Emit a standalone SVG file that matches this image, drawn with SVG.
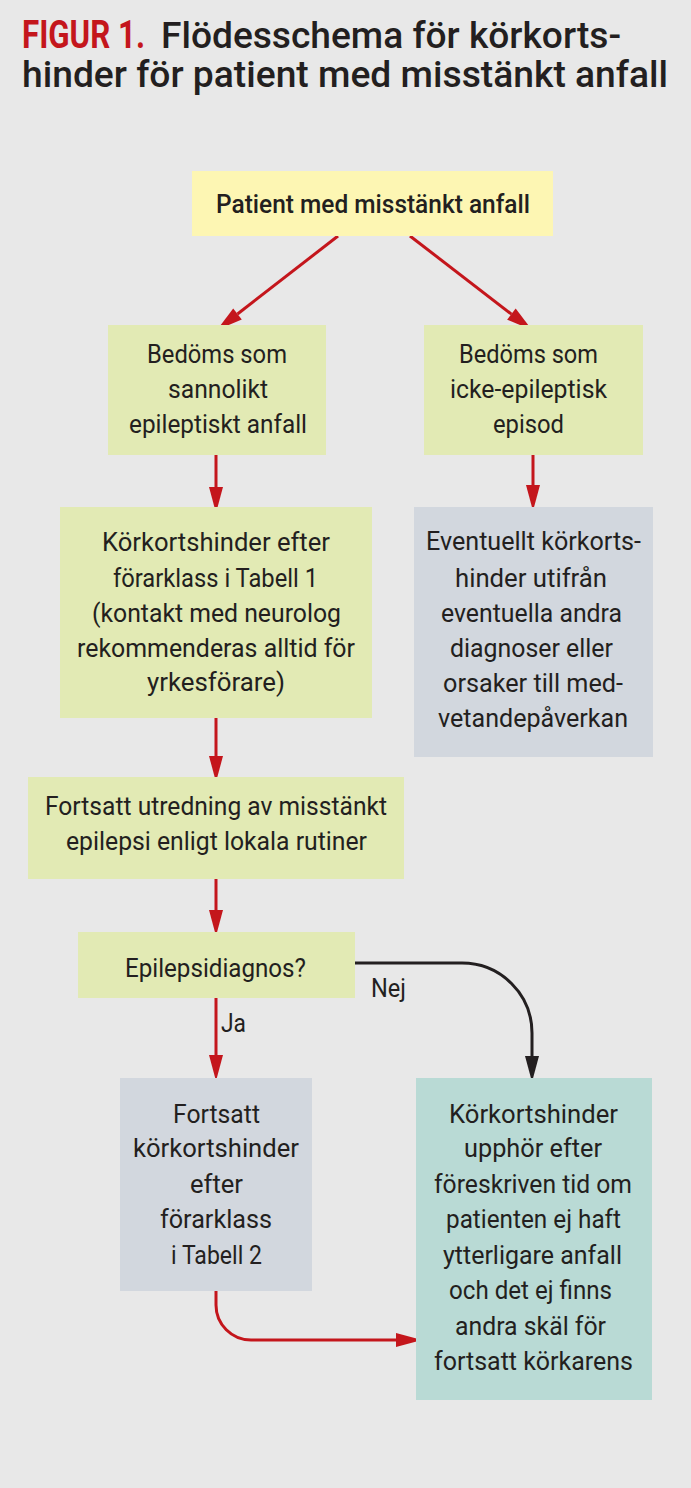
<svg xmlns="http://www.w3.org/2000/svg" width="691" height="1488" viewBox="0 0 691 1488">
<defs>
<style>
.bg{fill:#e8e8e8}
.yel{fill:#fdf6b3}
.grn{fill:#e2eab4}
.gry{fill:#d2d7de}
.teal{fill:#b9dad5}
.t{font-family:Roboto,"Liberation Sans",sans-serif;font-size:26px;font-weight:400;fill:#231f20;text-anchor:middle}
.tb{font-weight:500}
.lbl{font-family:Roboto,"Liberation Sans",sans-serif;font-size:26px;fill:#231f20}
.ttl{font-family:Roboto,"Liberation Sans",sans-serif;font-size:36px;font-weight:500;fill:#231f20}
.fig{font-family:Roboto,"Liberation Sans",sans-serif;font-size:39px;font-weight:700;fill:#c4161c}
.red{fill:none;stroke:#c4161c;stroke-width:3}
.blk{fill:none;stroke:#231f20;stroke-width:3}
</style>
<marker id="ar" markerUnits="userSpaceOnUse" markerWidth="26" markerHeight="14" refX="0" refY="7" orient="auto" overflow="visible">
<path d="M0,0 L26,7 L0,14 z" fill="#c4161c"/>
</marker>
<marker id="ab" markerUnits="userSpaceOnUse" markerWidth="26" markerHeight="14" refX="0" refY="7" orient="auto" overflow="visible">
<path d="M0,0 L26,7 L0,14 z" fill="#231f20"/>
</marker>
</defs>
<rect class="bg" x="0" y="0" width="691" height="1488"/>
<g id="title">
<text class="fig" x="22" y="48" textLength="123" lengthAdjust="spacingAndGlyphs">FIGUR 1.</text>
<text class="ttl" x="161" y="48" textLength="460" lengthAdjust="spacingAndGlyphs">Flödesschema för körkorts-</text>
<text class="ttl" x="22" y="87" textLength="646" lengthAdjust="spacingAndGlyphs">hinder för patient med misstänkt anfall</text>
</g>
<g id="connectors">
<path class="red" d="M338,236 L237.5,314" marker-end="url(#ar)"/>
<path class="red" d="M410,236 L511.4,314.1" marker-end="url(#ar)"/>
<path class="red" d="M216,455 V487" marker-end="url(#ar)"/>
<path class="red" d="M533,455 V485" marker-end="url(#ar)"/>
<path class="red" d="M216,718 V756" marker-end="url(#ar)"/>
<path class="red" d="M216,879 V910" marker-end="url(#ar)"/>
<path class="red" d="M216,998 V1055" marker-end="url(#ar)"/>
<path class="blk" d="M355,963 H462 A70,70 0 0 1 532,1033 V1056" marker-end="url(#ab)"/>
<path class="red" d="M216,1291 V1305 A35,35 0 0 0 251,1340 H396" marker-end="url(#ar)"/>
<text class="lbl" x="221" y="1032" textLength="25" lengthAdjust="spacingAndGlyphs">Ja</text>
<text class="lbl" x="371" y="997" textLength="35" lengthAdjust="spacingAndGlyphs">Nej</text>
</g>
<g id="n1">
<rect class="yel" x="192" y="171" width="361" height="65"/>
<text class="t tb" x="373" y="213" textLength="314" lengthAdjust="spacingAndGlyphs">Patient med misstänkt anfall</text>
</g>
<g id="n2">
<rect class="grn" x="108" y="325" width="218" height="130"/>
<text class="t" x="217" y="363" textLength="140" lengthAdjust="spacingAndGlyphs">Bedöms som</text>
<text class="t" x="218" y="398" textLength="100" lengthAdjust="spacingAndGlyphs">sannolikt</text>
<text class="t" x="218" y="433" textLength="178" lengthAdjust="spacingAndGlyphs">epileptiskt anfall</text>
</g>
<g id="n3">
<rect class="grn" x="424" y="325" width="219" height="130"/>
<text class="t" x="528.5" y="363" textLength="139" lengthAdjust="spacingAndGlyphs">Bedöms som</text>
<text class="t" x="528.5" y="398" textLength="157" lengthAdjust="spacingAndGlyphs">icke-epileptisk</text>
<text class="t" x="528.5" y="433" textLength="71" lengthAdjust="spacingAndGlyphs">episod</text>
</g>
<g id="n4">
<rect class="grn" x="60" y="507" width="312" height="211"/>
<text class="t" x="216" y="551" textLength="228" lengthAdjust="spacingAndGlyphs">Körkortshinder efter</text>
<text class="t" x="215.5" y="587" textLength="205" lengthAdjust="spacingAndGlyphs">förarklass i Tabell 1</text>
<text class="t" x="216.5" y="622" textLength="249" lengthAdjust="spacingAndGlyphs">(kontakt med neurolog</text>
<text class="t" x="216" y="657" textLength="278" lengthAdjust="spacingAndGlyphs">rekommenderas alltid för</text>
<text class="t" x="216" y="691" textLength="138" lengthAdjust="spacingAndGlyphs">yrkesförare)</text>
</g>
<g id="n5">
<rect class="gry" x="414" y="507" width="239" height="250"/>
<text class="t" x="533.5" y="550" textLength="215" lengthAdjust="spacingAndGlyphs">Eventuellt körkorts-</text>
<text class="t" x="531" y="587" textLength="152" lengthAdjust="spacingAndGlyphs">hinder utifrån</text>
<text class="t" x="531.5" y="622" textLength="181" lengthAdjust="spacingAndGlyphs">eventuella andra</text>
<text class="t" x="531.5" y="657" textLength="163" lengthAdjust="spacingAndGlyphs">diagnoser eller</text>
<text class="t" x="533" y="692" textLength="180" lengthAdjust="spacingAndGlyphs">orsaker till med-</text>
<text class="t" x="533" y="727" textLength="190" lengthAdjust="spacingAndGlyphs">vetandepåverkan</text>
</g>
<g id="n6">
<rect class="grn" x="28" y="777" width="376" height="102"/>
<text class="t" x="216" y="815" textLength="342" lengthAdjust="spacingAndGlyphs">Fortsatt utredning av misstänkt</text>
<text class="t" x="216.5" y="850" textLength="301" lengthAdjust="spacingAndGlyphs">epilepsi enligt lokala rutiner</text>
</g>
<g id="n7">
<rect class="grn" x="78" y="932" width="277" height="66"/>
<text class="t" x="215.5" y="977" textLength="181" lengthAdjust="spacingAndGlyphs">Epilepsidiagnos?</text>
</g>
<g id="n8">
<rect class="gry" x="120" y="1078" width="192" height="213"/>
<text class="t" x="216.5" y="1123" textLength="87" lengthAdjust="spacingAndGlyphs">Fortsatt</text>
<text class="t" x="216" y="1157" textLength="166" lengthAdjust="spacingAndGlyphs">körkortshinder</text>
<text class="t" x="216.5" y="1193" textLength="53" lengthAdjust="spacingAndGlyphs">efter</text>
<text class="t" x="216" y="1228" textLength="112" lengthAdjust="spacingAndGlyphs">förarklass</text>
<text class="t" x="216.5" y="1264" textLength="91" lengthAdjust="spacingAndGlyphs">i Tabell 2</text>
</g>
<g id="n9">
<rect class="teal" x="416" y="1078" width="236" height="322"/>
<text class="t" x="533.5" y="1123" textLength="169" lengthAdjust="spacingAndGlyphs">Körkortshinder</text>
<text class="t" x="533" y="1157" textLength="138" lengthAdjust="spacingAndGlyphs">upphör efter</text>
<text class="t" x="533" y="1193" textLength="198" lengthAdjust="spacingAndGlyphs">föreskriven tid om</text>
<text class="t" x="533.5" y="1228" textLength="175" lengthAdjust="spacingAndGlyphs">patienten ej haft</text>
<text class="t" x="532.5" y="1264" textLength="179" lengthAdjust="spacingAndGlyphs">ytterligare anfall</text>
<text class="t" x="530.5" y="1299" textLength="163" lengthAdjust="spacingAndGlyphs">och det ej finns</text>
<text class="t" x="530.5" y="1335" textLength="151" lengthAdjust="spacingAndGlyphs">andra skäl för</text>
<text class="t" x="533.5" y="1370" textLength="199" lengthAdjust="spacingAndGlyphs">fortsatt körkarens</text>
</g>
</svg>
